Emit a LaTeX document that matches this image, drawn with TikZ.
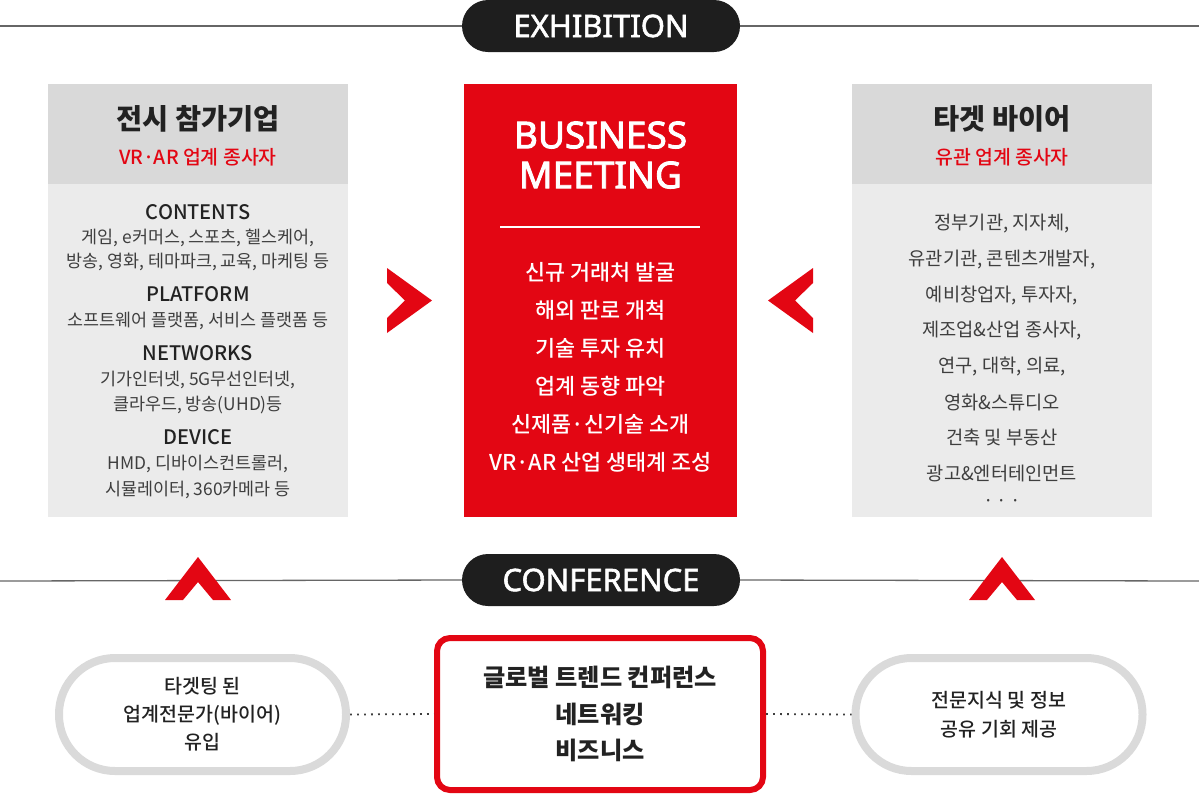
\documentclass[tikz,border=0pt]{standalone}
\usepackage{fontspec}
\setmainfont{Noto Sans CJK KR}
\newfontfamily\medfont{Noto Sans CJK KR}[UprightFont=* Medium]
\newfontfamily\latinfont{Noto Sans}[FakeBold=1.8]
\newfontfamily\latinbold{Noto Sans}[FakeBold=2.4]
\usetikzlibrary{positioning}
\definecolor{brandred}{HTML}{E30613}
\definecolor{pilldark}{HTML}{1E1E1E}
\definecolor{headgray}{HTML}{D9D9D9}
\definecolor{bodygray}{HTML}{EBEBEB}
\definecolor{textgray}{HTML}{3E3E3E}
\definecolor{titlegray}{HTML}{222222}
\definecolor{rulegray}{HTML}{666666}
\definecolor{ringgray}{HTML}{DADADA}
\newcommand{\fsz}[1]{\fontsize{#1}{#1}\selectfont}
\newcommand{\fszl}[2]{\fontsize{#1}{#2}\selectfont}

\begin{document}
\begin{tikzpicture}[x=1pt,y=-1pt,
    rule/.style={draw=rulegray, line width=1.3pt},
    pill/.style={fill=pilldark, text=white, rounded corners=26pt, minimum width=278pt,
      minimum height=52pt, inner sep=0pt, font=\latinfont\bfseries\fsz{31}},
    headbox/.style={fill=headgray, minimum width=300pt, minimum height=100pt, inner sep=0pt},
    bodybox/.style={fill=bodygray, minimum width=300pt, minimum height=333pt, inner sep=0pt},
    title/.style={text=titlegray, font=\bfseries\fsz{28.4}, inner sep=0pt},
    subtitle/.style={text=brandred, font=\medfont\fsz{19.4}, inner sep=0pt},
    head/.style={text=titlegray, font=\medfont\fsz{20}, inner sep=0pt},
    item/.style={text=textgray, font=\fsz{17.4}, inner sep=0pt},
    buyer/.style={text=textgray, font=\fsz{18.7}, inner sep=0pt},
    meet/.style={text=white, font=\medfont\fsz{21.8}, inner sep=0pt},
    ring/.style={draw=ringgray, line width=8pt, rounded corners=56pt, minimum width=287pt,
      minimum height=113pt, align=center, text=titlegray, font=\medfont\fszl{19.5}{28}},
    dotline/.style={draw=textgray, line width=1.8pt, dash pattern=on 1.8pt off 5.2pt},
    chev/.style={fill=brandred}
  ]
  \useasboundingbox (0,0) rectangle (1199,796);
  % Exhibition band
  \node[pill] (exhib) at (601,26) {EXHIBITION};
  \draw[rule] (0,26) -- (exhib.west);
  \draw[rule] (exhib.east) -- (1199,26);
  % Left column: exhibitors
  \node[headbox] (exhead) at (198,134) {};
  \node[bodybox] (exbody) at (198,350.5) {};
  \node[title] (extitle) at (198,119) {전시 참가기업};
  \node[subtitle] (exsub) at (198,157) {VR·AR 업계 종사자};
  \node[head] (cont) at (198,212) {CONTENTS};
  \node[item] (cont1) at (198,238) {게임, e커머스, 스포츠, 헬스케어,};
  \node[item] (cont2) at (198,262) {방송, 영화, 테마파크, 교육, 마케팅 등};
  \node[head] (plat) at (198,294) {PLATFORM};
  \node[item] (plat1) at (198,321) {소프트웨어 플랫폼, 서비스 플랫폼 등};
  \node[head] (netw) at (198,353) {NETWORKS};
  \node[item] (netw1) at (198,380) {기가인터넷, 5G무선인터넷,};
  \node[item] (netw2) at (198,405) {클라우드, 방송(UHD)등};
  \node[head] (devc) at (198,437) {DEVICE};
  \node[item] (devc1) at (198,464) {HMD, 디바이스컨트롤러,};
  \node[item] (devc2) at (198,490) {시뮬레이터, 360카메라 등};
  % Center: business meeting
  \node[fill=brandred, minimum width=273pt, minimum height=433pt, inner sep=0pt] (meetbox) at (600.5,300.5) {};
  \node[text=white, font=\latinbold\fszl{37}{40}, align=center, inner sep=0pt] (meettitle) at (600.5,155)
    {BUSINESS\\MEETING};
  \draw[white, line width=1.5pt] (500,227) -- (700,227);
  \foreach \t [count=\i] in {신규 거래처 발굴, 해외 판로 개척, 기술 투자 유치, 업계 동향 파악,
      신제품·신기술 소개, VR·AR 산업 생태계 조성}
    \node[meet] (meet\i) at (600.5,{272+38*(\i-1)}) {\t};
  % Right column: buyers
  \node[headbox] (byhead) at (1002,134) {};
  \node[bodybox] (bybody) at (1002,350.5) {};
  \node[title] (bytitle) at (1002,119) {타겟 바이어};
  \node[subtitle] (bysub) at (1002,157) {유관 업계 종사자};
  \foreach \t [count=\i] in {{정부기관, 지자체,}, {유관기관, 콘텐츠개발자,}, {예비창업자, 투자자,},
      {제조업\&산업 종사자,}, {연구, 대학, 의료,}, {영화\&스튜디오}, {건축 및 부동산}, {광고\&엔터테인먼트}}
    \node[buyer] (buyer\i) at (1002,{224+35.6*(\i-1)}) {\t};
  \node[buyer] (buyerdots) at (1002,503) {·\,·\,·};
  % Side chevrons
  \fill[chev] (387,268) -- (432,300.5) -- (387,333) -- (387,318) -- (405,300.5) -- (387,283) -- cycle;
  \fill[chev] (813,268) -- (768,300.5) -- (813,333) -- (813,318) -- (795,300.5) -- (813,283) -- cycle;
  % Conference band
  \node[pill] (conf) at (601,580) {CONFERENCE};
  \draw[rule] (0,581) -- (conf.west);
  \draw[rule] (conf.east) -- (1199,581);
  \foreach \cx in {198,1002}
    \fill[chev] (\cx-33,600) -- (\cx,557) -- (\cx+33,600) -- (\cx+15,600) -- (\cx,582) -- (\cx-15,600) -- cycle;
  % Conference items
  \node[draw=brandred, line width=6pt, rounded corners=13pt, minimum width=326pt, minimum height=152pt,
    align=center, text=titlegray, font=\bfseries\fszl{24.2}{36.5}] (confbox) at (600,714)
    {글로벌 트렌드 컨퍼런스\\네트워킹\\비즈니스};
  \node[ring] (lring) at (202.5,714.5) {타겟팅 된\\업계전문가(바이어)\\유입};
  \node[ring, font=\medfont\fszl{19.5}{29}] (rring) at (999,714.5) {전문지식 및 정보\\공유 기회 제공};
  \draw[dotline] (lring.east) -- (confbox.west);
  \draw[dotline] (confbox.east) -- (rring.west);
\end{tikzpicture}
\end{document}
